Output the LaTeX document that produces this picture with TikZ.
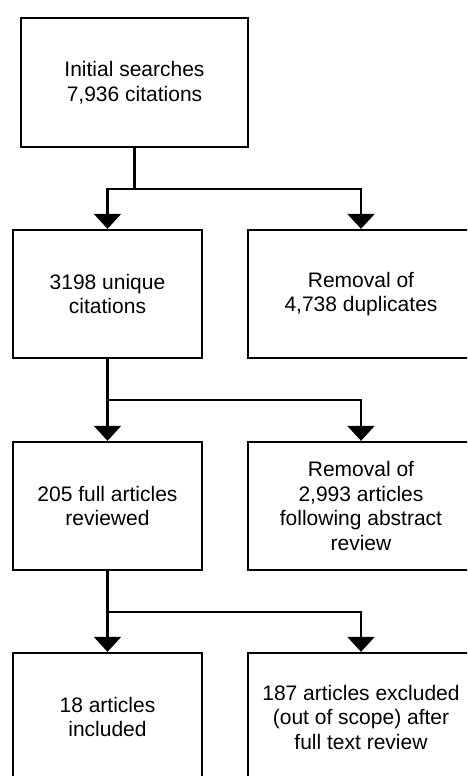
\documentclass[tikz,border=0pt]{standalone}
\usepackage{fontspec}
\setmainfont{Liberation Sans}
\usetikzlibrary{arrows.meta}
\begin{document}
\begin{tikzpicture}[x=1pt,y=-1pt,
  box/.style={draw=black,line width=2.3pt,fill=white,inner sep=0pt,align=center,
    font=\fontsize{21}{24.5}\selectfont,minimum height=128pt},
  narrow/.style={box,minimum width=189pt},
  wide/.style={box,minimum width=226pt},
  conn/.style={line width=2.3pt,line join=miter},
  arr/.style={conn,-{Triangle[width=27pt,length=15pt]}}]
\useasboundingbox (0,0) rectangle (467,776);
\clip (0,0) rectangle (467,776);
\fill[white] (0,0) rectangle (467,776);
\node[box,minimum width=227pt,minimum height=129pt] (b1) at (134.5,82.5) {Initial searches\\7,936 citations};
\node[narrow] (b2) at (107.5,294) {3198 unique\\citations};
\node[wide] (b3) at (361,294) {Removal of\\4,738 duplicates};
\node[narrow] (b4) at (107.5,506) {205 full articles\\reviewed};
\node[wide] (b5) at (361,506) {Removal of\\2,993 articles\\following abstract\\review};
\node[narrow] (b6) at (107.5,717) {18 articles\\included};
\node[wide] (b7) at (361,717) {187 articles excluded\\(out of scope) after\\full text review};
\coordinate (j1) at (134.5,189);
\coordinate (j2) at (107.5,400);
\coordinate (j3) at (107.5,612);
\draw[conn] (b1.south) -- (j1);
\draw[arr] (j1) -| (b2.north);
\draw[arr] (j1) -| (b3.north);
\draw[arr] (b2.south) -- (b4.north);
\draw[arr] (j2) -| (b5.north);
\draw[arr] (b4.south) -- (b6.north);
\draw[arr] (j3) -| (b7.north);
\end{tikzpicture}
\end{document}
